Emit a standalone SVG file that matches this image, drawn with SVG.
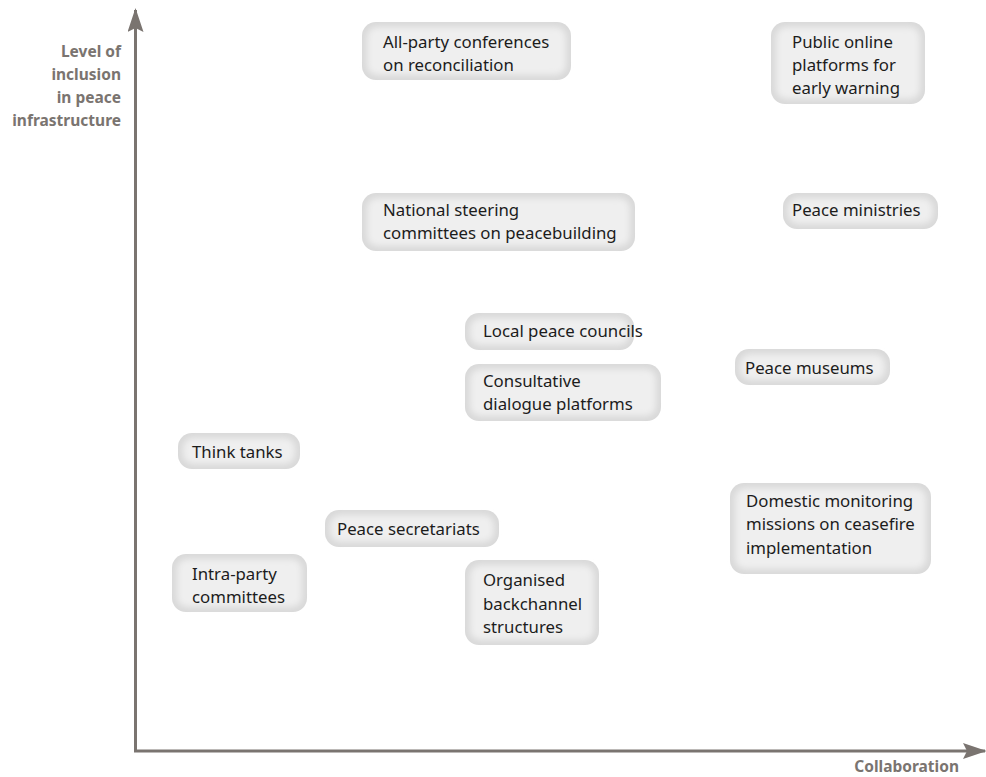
<svg xmlns="http://www.w3.org/2000/svg" width="986" height="777" viewBox="0 0 986 777">
<defs>
<style>
.box{fill:#d9d9d9}
.inner{fill:#efefef;filter:url(#blur)}
.t{font-family:"Noto Sans","Open Sans",sans-serif;font-size:16.8px;fill:#1c1c1c}
.ax{font-family:"Noto Sans","Open Sans",sans-serif;font-size:15.5px;font-weight:bold;fill:#7a7470;text-anchor:end}
.axis{stroke:#7a7470;stroke-width:3;fill:none}
</style>
<filter id="blur" x="-20%" y="-20%" width="140%" height="140%"><feGaussianBlur stdDeviation="3"/></filter>
<marker id="arr" viewBox="0 0 24 16" refX="22" refY="8" markerWidth="24" markerHeight="16" markerUnits="userSpaceOnUse" orient="auto">
<path d="M0,0 L24,8 L0,16 L4,8 Z" fill="#7a7470"/>
</marker>
</defs>
<rect width="986" height="777" fill="#fff"/>
<g id="connectors">
<path class="axis" d="M135.5,752 L135.5,10" marker-end="url(#arr)"/>
<path class="axis" d="M134,751 L985,751" marker-end="url(#arr)"/>
</g>
<g id="axis-labels">
<text class="ax" x="121"><tspan x="121" y="57">Level of</tspan><tspan x="121" y="80">inclusion</tspan><tspan x="121" y="103">in peace</tspan><tspan x="121" y="126">infrastructure</tspan></text>
<text class="ax" x="959" y="772">Collaboration</text>
</g>
<g id="n1"><rect class="box" x="362" y="22" width="209" height="58" rx="14"/><rect class="inner" x="367" y="27" width="199" height="48" rx="10"/>
<text class="t"><tspan x="383" y="48">All-party conferences</tspan><tspan x="383" y="71">on reconciliation</tspan></text></g>
<g id="n2"><rect class="box" x="771" y="22" width="154" height="82" rx="14"/><rect class="inner" x="776" y="27" width="144" height="72" rx="10"/>
<text class="t"><tspan x="792" y="48">Public online</tspan><tspan x="792" y="71">platforms for</tspan><tspan x="792" y="94">early warning</tspan></text></g>
<g id="n3"><rect class="box" x="362" y="193" width="273" height="58" rx="14"/><rect class="inner" x="367" y="198" width="263" height="48" rx="10"/>
<text class="t"><tspan x="383" y="216">National steering</tspan><tspan x="383" y="239">committees on peacebuilding</tspan></text></g>
<g id="n4"><rect class="box" x="783" y="193" width="155" height="36" rx="14"/><rect class="inner" x="788" y="198" width="145" height="26" rx="10"/>
<text class="t" x="792" y="216">Peace ministries</text></g>
<g id="n5"><rect class="box" x="465" y="313" width="169" height="37" rx="14"/><rect class="inner" x="470" y="318" width="159" height="27" rx="10"/>
<text class="t" x="483" y="337">Local peace councils</text></g>
<g id="n6"><rect class="box" x="465" y="364" width="196" height="57" rx="14"/><rect class="inner" x="470" y="369" width="186" height="47" rx="10"/>
<text class="t"><tspan x="483" y="387">Consultative</tspan><tspan x="483" y="410">dialogue platforms</tspan></text></g>
<g id="n7"><rect class="box" x="735" y="349" width="155" height="36" rx="14"/><rect class="inner" x="740" y="354" width="145" height="26" rx="10"/>
<text class="t" x="745" y="374">Peace museums</text></g>
<g id="n8"><rect class="box" x="178" y="433" width="122" height="36" rx="14"/><rect class="inner" x="183" y="438" width="112" height="26" rx="10"/>
<text class="t" x="192" y="458">Think tanks</text></g>
<g id="n9"><rect class="box" x="730" y="483" width="201" height="91" rx="14"/><rect class="inner" x="735" y="488" width="191" height="81" rx="10"/>
<text class="t"><tspan x="746" y="507">Domestic monitoring</tspan><tspan x="746" y="530">missions on ceasefire</tspan><tspan x="746" y="554">implementation</tspan></text></g>
<g id="n10"><rect class="box" x="325" y="510" width="174" height="37" rx="14"/><rect class="inner" x="330" y="515" width="164" height="27" rx="10"/>
<text class="t" x="337" y="535">Peace secretariats</text></g>
<g id="n11"><rect class="box" x="172" y="554" width="135" height="58" rx="14"/><rect class="inner" x="177" y="559" width="125" height="48" rx="10"/>
<text class="t"><tspan x="192" y="580">Intra-party</tspan><tspan x="192" y="603">committees</tspan></text></g>
<g id="n12"><rect class="box" x="465" y="560" width="134" height="85" rx="14"/><rect class="inner" x="470" y="565" width="124" height="75" rx="10"/>
<text class="t"><tspan x="483" y="586">Organised</tspan><tspan x="483" y="610">backchannel</tspan><tspan x="483" y="633">structures</tspan></text></g>
</svg>
